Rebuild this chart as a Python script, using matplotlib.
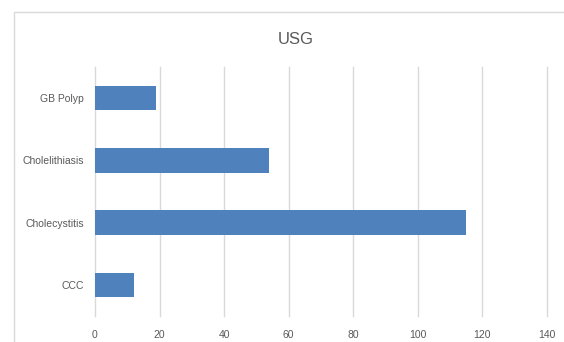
import matplotlib
matplotlib.use("Agg")
import matplotlib.pyplot as plt
from matplotlib.patches import Rectangle

# ==========================
# Data
# ==========================

categories = ["CCC", "Cholecystitis", "Cholelithiasis", "GB Polyp"]
counts = [12, 115, 54, 19]
x_ticks = [0, 20, 40, 60, 80, 100, 120, 140]

TEXT_GRAY = "#595959"
GRID_GRAY = "#d9d9d9"
BAR_BLUE = "#4f81bd"

plt.rcParams["font.family"] = ["Liberation Sans Narrow", "Liberation Sans", "DejaVu Sans"]

fig = plt.figure(figsize=(5.64, 3.42), dpi=100)
fig.patch.set_facecolor("white")

# chart area border (runs off the right and bottom)
fig.patches.append(Rectangle(
    (14 / 564, -0.1), 1.2, 1.1 - 12 / 342,
    transform=fig.transFigure,
    facecolor="none",
    edgecolor=GRID_GRAY,
    linewidth=1.0,
))

ax = fig.add_axes([95 / 564, 1 - 316 / 342, (547 - 95) / 564, (316 - 67) / 342])

ax.barh(
    range(len(categories)),
    counts,
    height=0.39,
    color=BAR_BLUE,
    zorder=3
)

ax.set_xlim(0, 140)
ax.set_ylim(-0.5, len(categories) - 0.5)
ax.set_xticks(x_ticks)
ax.set_yticks(range(len(categories)))
ax.set_yticklabels(categories)

ax.grid(True, axis="x", color=GRID_GRAY, linewidth=1.0, zorder=0)
for gl in ax.get_xgridlines():
    gl.set_clip_on(False)
ax.set_axisbelow(True)

for side in ["top", "right", "bottom", "left"]:
    ax.spines[side].set_visible(False)

ax.tick_params(axis="both", length=0, labelsize=7.5, colors=TEXT_GRAY)
ax.tick_params(axis="y", pad=8)
ax.tick_params(axis="x", pad=10)

fig.text(296 / 564, 1 - 40 / 342, "USG", ha="center", va="center",
         fontsize=12, color=TEXT_GRAY)

fig.savefig("out.png", dpi=100)
